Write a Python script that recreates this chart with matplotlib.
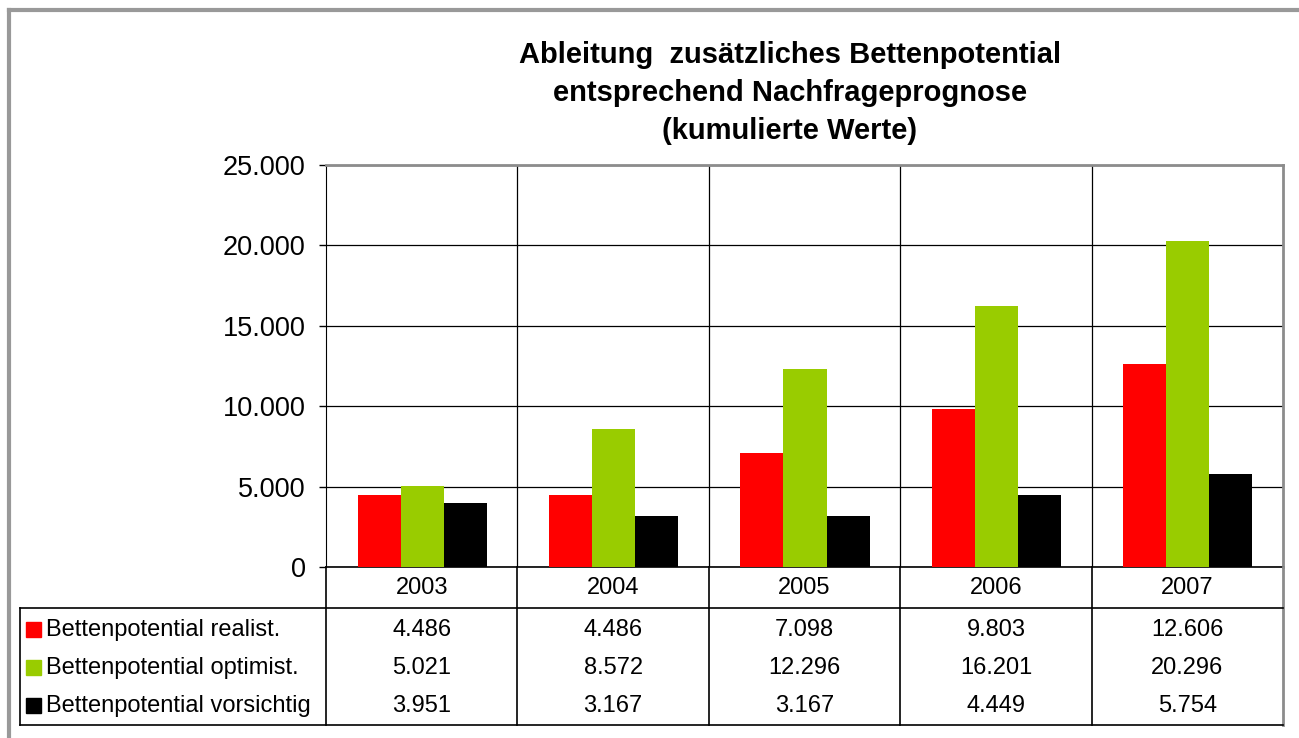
import matplotlib.pyplot as plt
from matplotlib.lines import Line2D
from matplotlib.patches import Rectangle

plt.rcParams['font.family'] = ['Liberation Sans', 'DejaVu Sans']

years = ['2003', '2004', '2005', '2006', '2007']
series_names = ['Bettenpotential realist.', 'Bettenpotential optimist.', 'Bettenpotential vorsichtig']
realist = [4486, 4486, 7098, 9803, 12606]
optimist = [5021, 8572, 12296, 16201, 20296]
vorsichtig = [3951, 3167, 3167, 4449, 5754]
colors = ['#FF0000', '#99CC00', '#000000']

W, H = 1299, 738
fig = plt.figure(figsize=(W / 100, H / 100), dpi=100)

# pixel layout (from top-left)
px_left, px_right = 326, 1283
px_top, px_zero = 165, 567
px_tab_head, px_tab_bot = 608, 725
px_tab_left = 20


def fx(x):
    return x / W


def fy(y):
    return 1 - y / H


def fmt(v):
    return '0' if v == 0 else f'{v // 1000}.{v % 1000:03d}'


ax = fig.add_axes([fx(px_left), fy(px_zero), fx(px_right - px_left), (px_zero - px_top) / H])
n = len(years)
bw = 0.225
for i, vals in enumerate([realist, optimist, vorsichtig]):
    xs = [k - 0.5 + 0.165 + bw * (i + 0.5) for k in range(n)]
    ax.bar(xs, vals, width=bw, color=colors[i], zorder=3)

ax.set_xlim(-0.5, n - 0.5)
ax.set_ylim(0, 25000)
yt = list(range(0, 25001, 5000))
ax.set_yticks(yt)
ax.set_yticklabels([fmt(v) for v in yt], fontsize=19.5)
ax.set_xticks([])
ax.yaxis.grid(True, color='black', linewidth=0.9, zorder=0)
for k in range(1, n):
    ax.axvline(k - 0.5, color='black', linewidth=0.9, zorder=0)
ax.tick_params(axis='y', length=5, width=1, pad=9.5, color='black')
ax.spines['left'].set_color('black')
ax.spines['bottom'].set_color('black')
ax.spines['bottom'].set_linewidth(1.2)
ax.spines['top'].set_color('#8c8c8c')
ax.spines['top'].set_linewidth(2)
ax.spines['right'].set_color('#8c8c8c')
ax.spines['right'].set_linewidth(2)

# title
fig.text(fx(790), fy(93), 'Ableitung  zusätzliches Bettenpotential\nentsprechend Nachfrageprognose\n(kumulierte Werte)',
         ha='center', va='center', fontsize=21, fontweight='bold', linespacing=1.45)

# outer frame
fig.add_artist(Line2D([fx(9), fx(1310)], [fy(10), fy(10)], color='#999999', linewidth=3))
fig.add_artist(Line2D([fx(9), fx(9)], [fy(10), fy(745)], color='#999999', linewidth=3))

# data table
lw = 1.2
col_w = (px_right - px_left) / n
bounds = [px_left + col_w * k for k in range(n + 1)]
for b in bounds[:-1]:
    fig.add_artist(Line2D([fx(b), fx(b)], [fy(px_zero), fy(px_tab_bot)], color='black', linewidth=lw))
fig.add_artist(Line2D([fx(px_right), fx(px_right)], [fy(px_zero), fy(px_tab_bot)], color='#8c8c8c', linewidth=2))
fig.add_artist(Line2D([fx(px_tab_left), fx(px_right)], [fy(px_tab_head), fy(px_tab_head)], color='black', linewidth=lw))
fig.add_artist(Line2D([fx(px_tab_left), fx(px_right)], [fy(px_tab_bot), fy(px_tab_bot)], color='black', linewidth=lw))
fig.add_artist(Line2D([fx(px_tab_left), fx(px_tab_left)], [fy(px_tab_head), fy(px_tab_bot)], color='black', linewidth=lw))

for k, yr in enumerate(years):
    cx = (bounds[k] + bounds[k + 1]) / 2
    fig.text(fx(cx), fy(588), yr, ha='center', va='center', fontsize=17)

row_y = [630, 668, 706]
for r, vals in enumerate([realist, optimist, vorsichtig]):
    fig.add_artist(Rectangle((fx(26), fy(row_y[r] + 7)), fx(15), 15 / H, color=colors[r]))
    fig.text(fx(46), fy(row_y[r]), series_names[r], ha='left', va='center', fontsize=17)
    for k, v in enumerate(vals):
        cx = (bounds[k] + bounds[k + 1]) / 2
        fig.text(fx(cx), fy(row_y[r]), fmt(v), ha='center', va='center', fontsize=17)

fig.savefig('out.png', dpi=100)
